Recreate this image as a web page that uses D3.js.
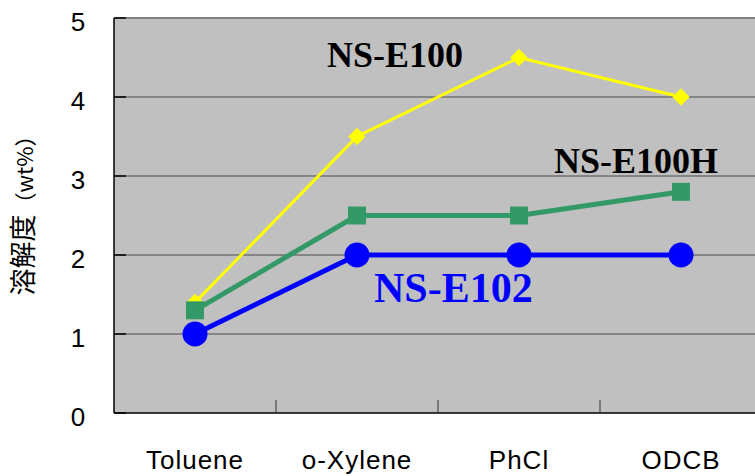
<!DOCTYPE html>
<html lang="ja">
<head>
<meta charset="UTF-8">
<title>溶解度</title>
<style>
  body { margin: 0; background: #fff; }
  svg { display: block; }
  .tick-label { font-family: "Liberation Sans", Arial, sans-serif; fill: #000; }
  .series-label { font-family: "Liberation Serif", "Times New Roman", serif; font-weight: bold; }
</style>
</head>
<body>
<div id="chart"></div>
<script src="https://d3js.org/d3.v7.min.js"></script>
<script>
// solvents on the x axis
const solvents = ["Toluene", "o-Xylene", "PhCl", "ODCB"];
const yTicks = [0, 1, 2, 3, 4, 5];

// solubility (wt%) per solvent
const e100 = [1.4, 3.5, 4.5, 4.0];
const e100h = [1.3, 2.5, 2.5, 2.8];
const e102 = [1.0, 2.0, 2.0, 2.0];

const width = 755, height = 476;
const plotL = 114, plotR = 762, plotT = 18, plotB = 413;

const svg = d3.select("#chart").append("svg")
    .attr("width", width)
    .attr("height", height);

const x = d3.scaleBand().domain(solvents).range([plotL, plotR]);
const y = d3.scaleLinear().domain([0, 5]).range([plotB, plotT]);
const cx = d => x(d) + x.bandwidth() / 2;

// plot background
svg.append("rect")
    .attr("x", plotL).attr("y", plotT)
    .attr("width", plotR - plotL).attr("height", plotB - plotT)
    .attr("fill", "#c0c0c0");

// horizontal grid
svg.selectAll(".grid").data(yTicks.slice(1, 5)).enter().append("line")
    .attr("x1", plotL).attr("x2", plotR)
    .attr("y1", d => y(d)).attr("y2", d => y(d))
    .attr("stroke", "#4a4a4a").attr("stroke-width", 1);

// top border
svg.append("line")
    .attr("x1", plotL).attr("x2", plotR)
    .attr("y1", y(5)).attr("y2", y(5))
    .attr("stroke", "#808080").attr("stroke-width", 2);

// left axis, ticks pointing inward
svg.selectAll(".ytick").data(yTicks).enter().append("line")
    .attr("x1", plotL).attr("x2", plotL + 12)
    .attr("y1", d => y(d)).attr("y2", d => y(d))
    .attr("stroke", "#000").attr("stroke-width", 1.5);
svg.append("line")
    .attr("x1", plotL).attr("x2", plotL)
    .attr("y1", plotT).attr("y2", plotB)
    .attr("stroke", "#000").attr("stroke-width", 1.5);

svg.selectAll(".ylab").data(yTicks).enter().append("text")
    .attr("class", "tick-label")
    .attr("x", 78).attr("y", d => y(d) + 13)
    .attr("text-anchor", "middle")
    .attr("font-size", 26)
    .text(d => d);

// bottom axis, ticks at category boundaries
svg.append("line")
    .attr("x1", plotL).attr("x2", plotR)
    .attr("y1", plotB).attr("y2", plotB)
    .attr("stroke", "#000").attr("stroke-width", 1.5);
svg.selectAll(".xtick").data(solvents.slice(1)).enter().append("line")
    .attr("x1", d => x(d)).attr("x2", d => x(d))
    .attr("y1", plotB).attr("y2", plotB - 13)
    .attr("stroke", "#333").attr("stroke-width", 1);

svg.selectAll(".xlab").data(solvents).enter().append("text")
    .attr("class", "tick-label")
    .attr("x", d => cx(d)).attr("y", 469)
    .attr("text-anchor", "middle")
    .attr("font-size", 26)
    .attr("letter-spacing", 1)
    .text(d => d);

// y axis title
const title = svg.append("text")
    .attr("transform", "translate(33,210) rotate(-90)")
    .attr("text-anchor", "middle")
    .attr("font-family", "'Noto Sans CJK JP', sans-serif")
    .attr("font-size", 27);
title.append("tspan").text("溶解度");
title.append("tspan").attr("font-size", 22).text("（wt%）");

const line = d3.line().x((d, i) => cx(solvents[i])).y(d => y(d));

// NS-E100, yellow diamonds
svg.append("path").datum(e100)
    .attr("d", line).attr("fill", "none")
    .attr("stroke", "#ffff00").attr("stroke-width", 3);
svg.selectAll(".dia").data(e100).enter().append("path")
    .attr("d", d3.symbol().type(d3.symbolDiamond2).size(190))
    .attr("transform", (d, i) => `translate(${cx(solvents[i])},${y(d)})`)
    .attr("fill", "#ffff00");

// NS-E100H, green squares
svg.append("path").datum(e100h)
    .attr("d", line).attr("fill", "none")
    .attr("stroke", "#339966").attr("stroke-width", 5);
svg.selectAll(".sq").data(e100h).enter().append("rect")
    .attr("x", (d, i) => cx(solvents[i]) - 9)
    .attr("y", d => y(d) - 9)
    .attr("width", 18).attr("height", 18)
    .attr("fill", "#339966");

// NS-E102, blue circles
svg.append("path").datum(e102)
    .attr("d", line).attr("fill", "none")
    .attr("stroke", "#0000ff").attr("stroke-width", 5);
svg.selectAll(".dot").data(e102).enter().append("circle")
    .attr("cx", (d, i) => cx(solvents[i]))
    .attr("cy", d => y(d))
    .attr("r", 12.5)
    .attr("fill", "#0000ff");

// series labels
svg.append("text").attr("class", "series-label")
    .attr("x", 327).attr("y", 67).attr("font-size", 36).attr("fill", "#000")
    .text("NS-E100");
svg.append("text").attr("class", "series-label")
    .attr("x", 554).attr("y", 173).attr("font-size", 36).attr("fill", "#000")
    .text("NS-E100H");
svg.append("text").attr("class", "series-label")
    .attr("x", 374).attr("y", 302).attr("font-size", 42).attr("fill", "#0000ff")
    .text("NS-E102");
</script>
</body>
</html>
